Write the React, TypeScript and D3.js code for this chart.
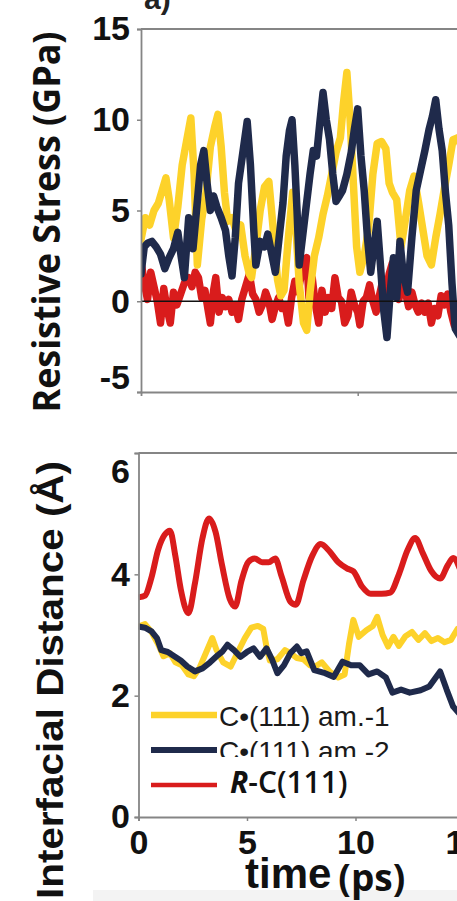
import React, { useEffect, useRef } from 'react';
import * as d3 from 'd3';

const W = 457;
const H = 901;

// resistive stress (GPa) vs time (ps)
const stressAm1: [number, number][] = [
  [0, 3.4], [0.2, 4.6], [0.4, 4.2], [0.6, 5.0], [0.8, 5.4], [1.0, 6.2], [1.15, 6.8], [1.3, 5.6],
  [1.5, 3.5], [1.7, 5.2], [1.9, 7.5], [2.1, 8.8], [2.3, 10.1], [2.45, 7.0], [2.6, 2.0], [2.8, 4.5],
  [3.0, 6.0], [3.2, 8.5], [3.4, 9.6], [3.55, 10.3], [3.7, 8.5], [3.85, 6.0], [4.0, 4.4], [4.2, 4.6],
  [4.4, 3.8], [4.6, 4.2], [4.8, 2.5], [5.0, 1.5], [5.1, 1.3], [5.3, 3.0], [5.5, 5.0], [5.7, 6.3],
  [5.9, 6.6], [6.1, 4.0], [6.3, 1.2], [6.45, 0.3], [6.6, 0.6], [6.8, 3.5], [7.0, 6.0], [7.15, 4.0],
  [7.3, 1.0], [7.5, -1.2], [7.65, -1.6], [7.8, 0.5], [8.0, 2.5], [8.2, 3.5], [8.4, 4.8], [8.6, 5.8],
  [8.8, 7.0], [9.0, 8.2], [9.2, 9.0], [9.35, 11.0], [9.5, 12.6], [9.65, 10.0], [9.8, 6.5], [9.95, 3.0],
  [10.1, 1.6], [10.3, 2.5], [10.5, 4.0], [10.7, 7.0], [10.9, 8.7], [11.1, 8.8], [11.3, 8.4], [11.45, 6.5],
  [11.6, 6.0], [11.8, 5.6], [12.0, 3.0], [12.2, 4.5], [12.4, 6.1], [12.6, 6.9], [12.8, 5.5], [13.0, 4.0],
  [13.2, 2.5], [13.4, 2.0], [13.6, 3.5], [13.8, 4.8], [14.0, 6.2], [14.2, 7.5], [14.4, 8.9], [14.6, 9.0],
  [14.8, 8.5], [15.0, 7.8],
];

const stressAm2: [number, number][] = [
  [0, 1.5], [0.15, 3.0], [0.3, 3.2], [0.5, 3.3], [0.7, 3.0], [0.9, 2.6], [1.1, 1.8], [1.3, 2.4],
  [1.5, 2.9], [1.7, 3.8], [1.85, 2.5], [2.0, 1.3], [2.2, 4.6], [2.4, 2.9], [2.6, 5.5], [2.75, 7.5],
  [2.9, 8.3], [3.05, 6.5], [3.2, 5.0], [3.35, 5.8], [3.5, 5.2], [3.7, 4.6], [3.9, 3.9], [4.05, 2.5],
  [4.2, 1.4], [4.35, 3.5], [4.5, 6.5], [4.7, 8.2], [4.9, 9.9], [5.05, 7.5], [5.2, 4.0], [5.3, 2.0],
  [5.5, 3.3], [5.7, 3.0], [5.85, 3.7], [6.0, 2.8], [6.2, 1.6], [6.4, 3.8], [6.55, 5.4], [6.7, 8.0],
  [6.85, 9.4], [6.97, 10.0], [7.1, 7.5], [7.2, 5.0], [7.3, 2.0], [7.45, 3.5], [7.65, 5.5], [7.8, 7.0],
  [7.95, 8.3], [8.1, 8.0], [8.25, 9.8], [8.4, 11.5], [8.55, 10.0], [8.7, 8.9], [8.85, 7.0], [9.0, 5.5],
  [9.15, 5.8], [9.3, 6.1], [9.5, 7.0], [9.7, 8.2], [9.85, 9.5], [10.0, 10.6], [10.15, 8.0], [10.3, 6.1],
  [10.45, 3.5], [10.6, 1.6], [10.75, 3.0], [10.9, 4.4], [11.05, 2.0], [11.2, -0.5], [11.35, -2.0], [11.5, 0.5],
  [11.65, 2.4], [11.8, 0.2], [11.95, 3.3], [12.1, 1.5], [12.3, 0.5], [12.5, 3.5], [12.7, 6.1], [12.9, 7.2],
  [13.1, 8.3], [13.3, 9.5], [13.45, 10.2], [13.6, 11.1], [13.75, 9.5], [13.9, 8.3], [14.05, 6.0], [14.2, 4.2],
  [14.35, 1.0], [14.5, -1.5], [14.7, -1.9], [14.9, -1.0],
];

const stressRC: [number, number][] = [
  [0, 2.2], [0.15, 1.0], [0.3, 0.1], [0.45, 1.6], [0.6, 0.8], [0.75, 0.0], [0.9, -1.2], [1.05, 0.7],
  [1.2, -0.4], [1.35, -1.2], [1.5, 0.5], [1.65, -0.2], [1.8, 0.3], [2.0, 1.0], [2.2, 1.3], [2.35, 0.8],
  [2.5, 1.6], [2.65, 1.3], [2.8, 0.2], [2.95, 0.6], [3.1, -0.5], [3.2, -1.2], [3.35, 0.6], [3.45, 1.3],
  [3.6, -0.6], [3.75, 0.2], [3.9, -0.3], [4.05, 0.1], [4.2, -0.6], [4.35, -0.2], [4.5, -1.0], [4.65, 0.1],
  [4.8, 0.7], [5.0, 1.5], [5.15, 0.4], [5.3, 0.1], [5.45, -0.6], [5.6, -0.2], [5.75, 0.5], [5.9, 0.0],
  [6.05, -1.0], [6.2, -0.3], [6.35, 0.2], [6.5, -0.4], [6.65, -0.2], [6.8, -1.2], [6.95, 0.2], [7.1, 1.1],
  [7.25, 0.5], [7.4, 1.5], [7.55, 2.2], [7.65, 2.4], [7.75, 0.2], [7.9, 1.3], [8.05, -0.2], [8.2, -1.2],
  [8.35, 0.6], [8.5, -0.6], [8.65, 0.2], [8.8, -0.4], [8.95, 1.3], [9.1, 0.2], [9.25, 0.0], [9.4, -1.2],
  [9.55, -0.8], [9.7, 0.5], [9.85, -0.2], [10.0, -0.6], [10.1, -1.3], [10.25, 0.0], [10.4, 0.2], [10.55, 0.9],
  [10.7, 0.0], [10.85, -0.6], [11.0, 0.3], [11.15, 1.1], [11.3, 0.4], [11.45, 1.5], [11.6, 2.1], [11.75, 0.8],
  [11.9, 0.1], [12.05, 1.3], [12.2, 0.5], [12.35, -0.3], [12.5, 0.5], [12.65, -0.2], [12.8, -0.6], [12.95, -0.1],
  [13.1, -0.6], [13.25, -0.1], [13.4, -1.2], [13.55, -0.4], [13.7, -0.8], [13.85, 0.3], [14.0, -0.2], [14.15, 0.4],
  [14.3, -0.6], [14.45, -1.3], [14.6, -0.4], [14.8, -1.4], [15.0, -0.5],
];

// interfacial distance (Å) vs time (ps)
const distAm1: [number, number][] = [
  [0, 3.14], [0.3, 3.18], [0.6, 3.05], [0.9, 2.85], [1.15, 2.65], [1.45, 2.7], [1.7, 2.55], [2.0, 2.5],
  [2.3, 2.35], [2.55, 2.32], [2.8, 2.45], [3.1, 2.7], [3.4, 2.95], [3.6, 2.75], [3.9, 2.55], [4.25, 2.48],
  [4.55, 2.7], [4.9, 2.95], [5.2, 3.12], [5.5, 3.15], [5.75, 3.1], [5.9, 2.8], [6.05, 2.58], [6.4, 2.6],
  [6.75, 2.75], [7.0, 2.7], [7.3, 2.62], [7.6, 2.6], [7.9, 2.5], [8.15, 2.48], [8.45, 2.55], [8.8, 2.4],
  [9.2, 2.3], [9.5, 2.35], [9.7, 2.85], [9.9, 3.25], [10.15, 2.97], [10.5, 3.08], [10.8, 3.15], [11.0, 3.3],
  [11.25, 3.0], [11.5, 2.81], [11.75, 2.97], [12.0, 2.82], [12.3, 2.98], [12.6, 3.05], [12.9, 2.92], [13.2, 3.03],
  [13.5, 2.9], [13.8, 2.95], [14.1, 2.88], [14.4, 2.92], [14.7, 3.1], [15.0, 3.0],
];

const distAm2: [number, number][] = [
  [0, 3.14], [0.3, 3.12], [0.6, 3.06], [0.85, 2.95], [1.05, 2.75], [1.35, 2.72], [1.65, 2.65], [1.95, 2.58],
  [2.25, 2.48], [2.6, 2.4], [2.95, 2.45], [3.3, 2.55], [3.6, 2.65], [3.85, 2.72], [4.1, 2.84], [4.4, 2.75],
  [4.7, 2.64], [5.0, 2.72], [5.3, 2.78], [5.6, 2.64], [5.9, 2.78], [6.15, 2.6], [6.4, 2.37], [6.7, 2.5],
  [7.0, 2.7], [7.3, 2.81], [7.5, 2.7], [7.75, 2.73], [8.1, 2.42], [8.6, 2.37], [9.0, 2.31], [9.4, 2.56],
  [9.8, 2.5], [10.2, 2.5], [10.6, 2.35], [11.0, 2.4], [11.4, 2.3], [11.7, 2.05], [12.1, 2.1], [12.5, 2.05],
  [13.0, 2.09], [13.4, 2.15], [13.9, 2.4], [14.2, 2.1], [14.5, 1.82], [14.8, 1.7],
];

const distRC: [number, number][] = [
  [0, 3.62], [0.3, 3.65], [0.6, 3.95], [0.9, 4.4], [1.2, 4.65], [1.45, 4.72], [1.7, 4.3], [1.95, 3.75],
  [2.3, 3.36], [2.6, 3.85], [2.95, 4.6], [3.25, 4.92], [3.55, 4.7], [3.85, 4.15], [4.2, 3.6], [4.45, 3.47],
  [4.75, 3.9], [5.05, 4.2], [5.35, 4.26], [5.7, 4.2], [6.0, 4.2], [6.3, 4.26], [6.6, 3.96], [7.0, 3.55],
  [7.25, 3.5], [7.6, 3.9], [8.0, 4.3], [8.4, 4.5], [8.8, 4.38], [9.2, 4.2], [9.6, 4.1], [9.9, 4.05],
  [10.3, 3.8], [10.7, 3.68], [11.2, 3.68], [11.6, 3.7], [12.0, 4.0], [12.4, 4.4], [12.75, 4.6], [13.1, 4.35],
  [13.5, 4.05], [13.9, 3.93], [14.25, 4.15], [14.5, 4.27], [14.8, 4.1],
];

const stressTicks = [-5, 0, 5, 10, 15];
const distTicks = [0, 2, 4, 6];
const timeTicks = [0, 5, 10, 15];
const legendLabels = ['C•(111) am.-1', 'C•(111) am.-2', '-C(111)'];

const YELLOW = '#FDD22A';
const NAVY = '#1F2A4B';
const RED = '#D91C1C';
const AXIS = '#858585';
const TICK_FONT = '"Liberation Sans", Arial, sans-serif';

const App = () => {
  const ref = useRef<SVGSVGElement>(null);

  useEffect(() => {
    const svg = d3.select(ref.current);
    svg.selectAll('*').remove();

    svg.append('rect').attr('width', W).attr('height', H).attr('fill', '#fff');
    svg.append('rect').attr('x', 93).attr('y', 890).attr('width', W - 93).attr('height', 11).attr('fill', '#f3f3f3');

    // ---------- top panel ----------
    const xT = d3.scaleLinear().domain([0, 15]).range([141, 141 + 15 * 21.67]);
    const yT = d3.scaleLinear().domain([-5, 15]).range([392, 29]);

    const defs = svg.append('defs');
    defs.append('clipPath').attr('id', 'clipTop')
      .append('rect').attr('x', 141).attr('y', 29).attr('width', 340).attr('height', 363);
    defs.append('clipPath').attr('id', 'clipBot')
      .append('rect').attr('x', 138.5).attr('y', 453).attr('width', 340).attr('height', 364);
    defs.append('clipPath').attr('id', 'clipLeg')
      .append('rect').attr('x', 0).attr('y', 725).attr('width', W).attr('height', 32);

    const lineT = d3.line<[number, number]>().x(d => xT(d[0])).y(d => yT(d[1]));
    const gT = svg.append('g').attr('clip-path', 'url(#clipTop)');
    [[stressRC, RED], [stressAm1, YELLOW], [stressAm2, NAVY]].forEach(([data, color]) => {
      gT.append('path')
        .datum(data as [number, number][])
        .attr('d', lineT)
        .attr('fill', 'none')
        .attr('stroke', color as string)
        .attr('stroke-width', 7.5)
        .attr('stroke-linejoin', 'round')
        .attr('stroke-linecap', 'round');
    });
    svg.append('line')
      .attr('x1', 141).attr('x2', W).attr('y1', yT(0)).attr('y2', yT(0))
      .attr('stroke', '#111').attr('stroke-width', 1.6);

    // frame
    svg.append('line').attr('x1', 141).attr('x2', W).attr('y1', 29).attr('y2', 29)
      .attr('stroke', AXIS).attr('stroke-width', 1.8);

    const axLT = svg.append('g').attr('transform', 'translate(141,0)')
      .call(d3.axisLeft(yT).tickValues(stressTicks).tickSize(4).tickPadding(7).tickFormat(d => String(d)));
    axLT.selectAll('text').filter(d => d === -5).attr('y', -14);

    svg.append('g').attr('transform', 'translate(0,392)')
      .call(d3.axisBottom(xT).tickValues([10, 20]).tickSize(4).tickFormat(() => ''));

    // ---------- bottom panel ----------
    const xB = d3.scaleLinear().domain([0, 15]).range([138.5, 138.5 + 15 * 21.7]);
    const yB = d3.scaleLinear().domain([0, 6]).range([817, 453]);
    const lineB = d3.line<[number, number]>().x(d => xB(d[0])).y(d => yB(d[1]));
    const lineBs = d3.line<[number, number]>().x(d => xB(d[0])).y(d => yB(d[1])).curve(d3.curveMonotoneX);

    const gB = svg.append('g').attr('clip-path', 'url(#clipBot)');
    gB.append('path').datum(distRC).attr('d', lineBs)
      .attr('fill', 'none').attr('stroke', RED).attr('stroke-width', 6)
      .attr('stroke-linejoin', 'round');
    gB.append('path').datum(distAm1).attr('d', lineB)
      .attr('fill', 'none').attr('stroke', YELLOW).attr('stroke-width', 6)
      .attr('stroke-linejoin', 'round');
    gB.append('path').datum(distAm2).attr('d', lineB)
      .attr('fill', 'none').attr('stroke', NAVY).attr('stroke-width', 6)
      .attr('stroke-linejoin', 'round');

    svg.append('line').attr('x1', 138.5).attr('x2', W).attr('y1', 453).attr('y2', 453)
      .attr('stroke', AXIS).attr('stroke-width', 1.8);

    const axLB = svg.append('g').attr('transform', 'translate(138.5,0)')
      .call(d3.axisLeft(yB).tickValues(distTicks).tickSize(4).tickPadding(4.5).tickFormat(d => String(d)));
    axLB.selectAll('text').filter(d => d === 6).attr('y', 19);

    svg.append('g').attr('transform', 'translate(0,817)')
      .call(d3.axisBottom(xB).tickValues(timeTicks).tickSize(4).tickPadding(9).tickFormat(d => String(d)));

    svg.selectAll('.domain').attr('stroke', AXIS).attr('stroke-width', 1.8);
    svg.selectAll('.tick line').attr('stroke', AXIS).attr('stroke-width', 1.5);
    svg.selectAll('.tick text')
      .attr('fill', '#111')
      .style('font-family', TICK_FONT)
      .style('font-size', '34px')
      .style('font-weight', 'bold');

    // legend
    const leg = svg.append('g');
    const legRows = [
      { color: YELLOW, y: 715, w: 6.5 },
      { color: NAVY, y: 750, w: 6 },
      { color: RED, y: 785, w: 4.5 },
    ];
    legRows.forEach(r => {
      leg.append('line').attr('x1', 151).attr('x2', 217).attr('y1', r.y).attr('y2', r.y)
        .attr('stroke', r.color).attr('stroke-width', r.w);
    });
    leg.append('text').attr('x', 219).attr('y', 726).text(legendLabels[0])
      .style('font-family', TICK_FONT).style('font-size', '28px').attr('fill', '#1a1a1a');
    leg.append('text').attr('x', 219).attr('y', 761).text(legendLabels[1])
      .attr('clip-path', 'url(#clipLeg)')
      .style('font-family', TICK_FONT).style('font-size', '28px').attr('fill', '#1a1a1a');
    const t3 = leg.append('text').attr('x', 230).attr('y', 793)
      .style('font-family', '"Open Sans", sans-serif').style('font-size', '30px')
      .style('font-weight', 600).attr('fill', '#111');
    t3.append('tspan').style('font-style', 'italic').style('font-weight', 'bold').text('R');
    t3.append('tspan').text(legendLabels[2]);

    // panel tag, cut at the top edge
    svg.append('text').attr('x', 144).attr('y', 9).text('a)')
      .style('font-family', TICK_FONT).style('font-size', '30px').style('font-weight', 'bold').attr('fill', '#222');

    // axis titles
    svg.append('text')
      .attr('transform', 'translate(60,222) rotate(-90)')
      .attr('text-anchor', 'middle')
      .attr('textLength', 381).attr('lengthAdjust', 'spacingAndGlyphs')
      .style('font-family', '"Open Sans", sans-serif').style('font-size', '37px').style('font-weight', 'bold')
      .attr('fill', '#111')
      .text('Resistive Stress (GPa)');

    svg.append('text')
      .attr('transform', 'translate(63,680) rotate(-90)')
      .attr('text-anchor', 'middle')
      .attr('textLength', 438).attr('lengthAdjust', 'spacingAndGlyphs')
      .style('font-family', TICK_FONT).style('font-size', '37px').style('font-weight', 'bold')
      .attr('fill', '#111')
      .text('Interfacial Distance (Å)');

    const tx = svg.append('text').attr('x', 245).attr('y', 888).attr('fill', '#111');
    tx.append('tspan').text('time')
      .style('font-family', TICK_FONT).style('font-size', '42px').style('font-weight', 'bold');
    tx.append('tspan').attr('dx', 7).attr('dy', 3).text('(ps)')
      .style('font-family', '"Open Sans", sans-serif').style('font-size', '37px').style('font-weight', 'bold');
  }, []);

  return (
    <svg
      ref={ref}
      width={W}
      height={H}
      style={{ position: 'absolute', left: 0, top: 0, display: 'block' }}
    />
  );
};

export default App;
